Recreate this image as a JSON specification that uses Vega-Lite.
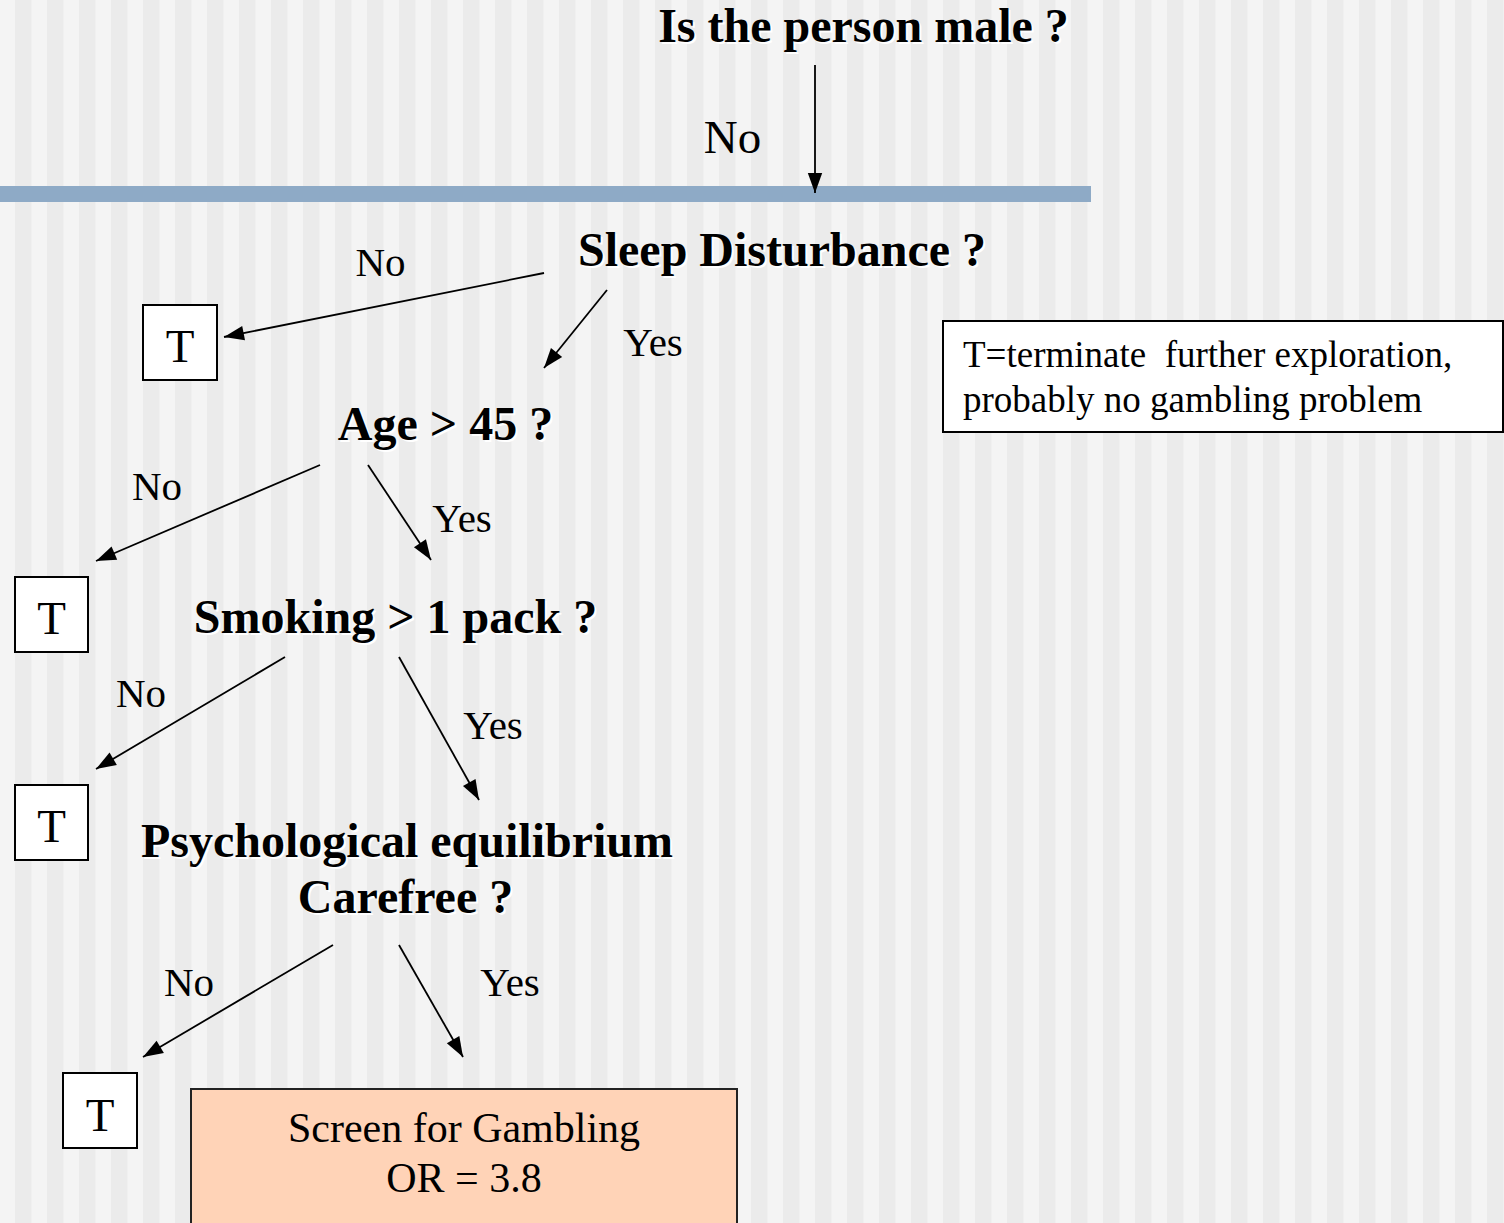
{
  "$schema": "https://vega.github.io/schema/vega-lite/v6.json",
  "width": 1504,
  "height": 1223,
  "padding": 0,
  "autosize": {"type": "none"},
  "background": "#f4f4f4",
  "config": {"view": {"stroke": null}},
  "datasets": {
    "stripes": [
      {"x0": 15, "x1": 31.5}, {"x0": 47, "x1": 63.5}, {"x0": 79, "x1": 95.5}, {"x0": 111, "x1": 127.5},
      {"x0": 143, "x1": 159.5}, {"x0": 175, "x1": 191.5}, {"x0": 207, "x1": 223.5}, {"x0": 239, "x1": 255.5},
      {"x0": 271, "x1": 287.5}, {"x0": 303, "x1": 319.5}, {"x0": 335, "x1": 351.5}, {"x0": 367, "x1": 383.5},
      {"x0": 399, "x1": 415.5}, {"x0": 431, "x1": 447.5}, {"x0": 463, "x1": 479.5}, {"x0": 495, "x1": 511.5},
      {"x0": 527, "x1": 543.5}, {"x0": 559, "x1": 575.5}, {"x0": 591, "x1": 607.5}, {"x0": 623, "x1": 639.5},
      {"x0": 655, "x1": 671.5}, {"x0": 687, "x1": 703.5}, {"x0": 719, "x1": 735.5}, {"x0": 751, "x1": 767.5},
      {"x0": 783, "x1": 799.5}, {"x0": 815, "x1": 831.5}, {"x0": 847, "x1": 863.5}, {"x0": 879, "x1": 895.5},
      {"x0": 911, "x1": 927.5}, {"x0": 943, "x1": 959.5}, {"x0": 975, "x1": 991.5}, {"x0": 1007, "x1": 1023.5},
      {"x0": 1039, "x1": 1055.5}, {"x0": 1071, "x1": 1087.5}, {"x0": 1103, "x1": 1119.5}, {"x0": 1135, "x1": 1151.5},
      {"x0": 1167, "x1": 1183.5}, {"x0": 1199, "x1": 1215.5}, {"x0": 1231, "x1": 1247.5}, {"x0": 1263, "x1": 1279.5},
      {"x0": 1295, "x1": 1311.5}, {"x0": 1327, "x1": 1343.5}, {"x0": 1359, "x1": 1375.5}, {"x0": 1391, "x1": 1407.5},
      {"x0": 1423, "x1": 1439.5}, {"x0": 1455, "x1": 1471.5}, {"x0": 1487, "x1": 1503.5}
    ],
    "boxes": [
      {"kind": "band", "x0": 0, "x1": 1091, "y0": 186, "y1": 202},
      {"kind": "T", "x0": 143, "x1": 217, "y0": 305, "y1": 380},
      {"kind": "T", "x0": 15, "x1": 88, "y0": 577, "y1": 652},
      {"kind": "T", "x0": 15, "x1": 88, "y0": 785, "y1": 860},
      {"kind": "T", "x0": 63, "x1": 137, "y0": 1073, "y1": 1148},
      {"kind": "legend", "x0": 943, "x1": 1503, "y0": 321, "y1": 432},
      {"kind": "outcome", "x0": 191, "x1": 737, "y0": 1089, "y1": 1240}
    ],
    "edges": [
      {"from": "male", "answer": "No", "x1": 815, "y1": 65, "x2": 815, "y2": 193},
      {"from": "sleep", "answer": "No", "x1": 544, "y1": 273, "x2": 224, "y2": 337},
      {"from": "sleep", "answer": "Yes", "x1": 607, "y1": 290, "x2": 544, "y2": 368},
      {"from": "age", "answer": "No", "x1": 320, "y1": 465, "x2": 96, "y2": 561},
      {"from": "age", "answer": "Yes", "x1": 368, "y1": 465, "x2": 431, "y2": 560},
      {"from": "smoking", "answer": "No", "x1": 285, "y1": 657, "x2": 96, "y2": 769},
      {"from": "smoking", "answer": "Yes", "x1": 399, "y1": 657, "x2": 479, "y2": 800},
      {"from": "psych", "answer": "No", "x1": 333, "y1": 945, "x2": 143, "y2": 1057},
      {"from": "psych", "answer": "Yes", "x1": 399, "y1": 945, "x2": 463, "y2": 1057}
    ],
    "texts": [
      {"kind": "question", "text": "Is the person male ?", "x": 863.5, "y": 42},
      {"kind": "question", "text": "Sleep Disturbance ?", "x": 782, "y": 266},
      {"kind": "question", "text": "Age > 45 ?", "x": 445.5, "y": 440},
      {"kind": "question", "text": "Smoking > 1 pack ?", "x": 395.5, "y": 633},
      {"kind": "question", "text": "Psychological equilibrium", "x": 407, "y": 857},
      {"kind": "question", "text": "Carefree ?", "x": 405.5, "y": 913},
      {"kind": "topanswer", "text": "No", "x": 732.5, "y": 153},
      {"kind": "answer", "text": "No", "x": 380.5, "y": 276},
      {"kind": "answer", "text": "Yes", "x": 653, "y": 356},
      {"kind": "answer", "text": "No", "x": 157, "y": 500},
      {"kind": "answer", "text": "Yes", "x": 462, "y": 532},
      {"kind": "answer", "text": "No", "x": 141, "y": 707},
      {"kind": "answer", "text": "Yes", "x": 493, "y": 739},
      {"kind": "answer", "text": "No", "x": 189, "y": 996},
      {"kind": "answer", "text": "Yes", "x": 510, "y": 996},
      {"kind": "T", "text": "T", "x": 180, "y": 362},
      {"kind": "T", "text": "T", "x": 51.5, "y": 634},
      {"kind": "T", "text": "T", "x": 51.5, "y": 842},
      {"kind": "T", "text": "T", "x": 100, "y": 1131},
      {"kind": "legend", "text": "T=terminate \u00a0further exploration,", "x": 963, "y": 367},
      {"kind": "legend", "text": "probably no gambling problem", "x": 963, "y": 412},
      {"kind": "outcome", "text": "Screen for Gambling", "x": 464, "y": 1142},
      {"kind": "outcome", "text": "OR = 3.8", "x": 464, "y": 1192}
    ]
  },
  "layer": [
    {
      "data": {"name": "stripes"},
      "mark": {"type": "rect", "color": "#ebebeb"},
      "encoding": {
        "x": {"field": "x0", "type": "quantitative", "scale": {"domain": [0, 1504], "range": [0, 1504], "zero": false, "nice": false}, "axis": null},
        "x2": {"field": "x1"},
        "y": {"datum": 0, "type": "quantitative", "scale": {"domain": [0, 1223], "range": [0, 1223], "zero": false, "nice": false}, "axis": null},
        "y2": {"datum": 1223}
      }
    },
    {
      "data": {"name": "boxes"},
      "transform": [{"filter": "datum.kind === 'band'"}],
      "mark": {"type": "rect", "color": "#8eaac6"},
      "encoding": {
        "x": {"field": "x0", "type": "quantitative", "scale": {"domain": [0, 1504], "range": [0, 1504], "zero": false, "nice": false}, "axis": null},
        "x2": {"field": "x1"},
        "y": {"field": "y0", "type": "quantitative", "scale": {"domain": [0, 1223], "range": [0, 1223], "zero": false, "nice": false}, "axis": null},
        "y2": {"field": "y1"}
      }
    },
    {
      "data": {"name": "boxes"},
      "transform": [{"filter": "datum.kind === 'T' || datum.kind === 'legend'"}],
      "mark": {"type": "rect", "fill": "#ffffff", "stroke": "#000000", "strokeWidth": 2},
      "encoding": {
        "x": {"field": "x0", "type": "quantitative", "scale": {"domain": [0, 1504], "range": [0, 1504], "zero": false, "nice": false}, "axis": null},
        "x2": {"field": "x1"},
        "y": {"field": "y0", "type": "quantitative", "scale": {"domain": [0, 1223], "range": [0, 1223], "zero": false, "nice": false}, "axis": null},
        "y2": {"field": "y1"}
      }
    },
    {
      "data": {"name": "boxes"},
      "transform": [{"filter": "datum.kind === 'outcome'"}],
      "mark": {"type": "rect", "fill": "#ffd3b7", "stroke": "#222222", "strokeWidth": 2},
      "encoding": {
        "x": {"field": "x0", "type": "quantitative", "scale": {"domain": [0, 1504], "range": [0, 1504], "zero": false, "nice": false}, "axis": null},
        "x2": {"field": "x1"},
        "y": {"field": "y0", "type": "quantitative", "scale": {"domain": [0, 1223], "range": [0, 1223], "zero": false, "nice": false}, "axis": null},
        "y2": {"field": "y1"}
      }
    },
    {
      "data": {"name": "edges"},
      "mark": {"type": "rule", "color": "#000000", "strokeWidth": 1.8},
      "encoding": {
        "x": {"field": "x1", "type": "quantitative", "scale": {"domain": [0, 1504], "range": [0, 1504], "zero": false, "nice": false}, "axis": null},
        "x2": {"field": "x2"},
        "y": {"field": "y1", "type": "quantitative", "scale": {"domain": [0, 1223], "range": [0, 1223], "zero": false, "nice": false}, "axis": null},
        "y2": {"field": "y2"}
      }
    },
    {
      "data": {"name": "edges"},
      "transform": [{"calculate": "atan2(datum.x2 - datum.x1, -(datum.y2 - datum.y1)) * 180 / PI", "as": "heading"}],
      "mark": {"type": "point", "shape": "M0,0L0.72,2L-0.72,2Z", "filled": true, "color": "#000000", "opacity": 1, "size": 400, "strokeWidth": 0},
      "encoding": {
        "x": {"field": "x2", "type": "quantitative", "scale": {"domain": [0, 1504], "range": [0, 1504], "zero": false, "nice": false}, "axis": null},
        "y": {"field": "y2", "type": "quantitative", "scale": {"domain": [0, 1223], "range": [0, 1223], "zero": false, "nice": false}, "axis": null},
        "angle": {"field": "heading", "type": "quantitative", "scale": null}
      }
    },
    {
      "data": {"name": "texts"},
      "transform": [{"filter": "datum.kind === 'question'"}],
      "mark": {"type": "text", "font": "Liberation Serif", "fontWeight": "bold", "fontSize": 48, "align": "center", "baseline": "alphabetic", "color": "#ffffff", "dx": 2, "dy": 2},
      "encoding": {
        "x": {"field": "x", "type": "quantitative", "scale": {"domain": [0, 1504], "range": [0, 1504], "zero": false, "nice": false}, "axis": null},
        "y": {"field": "y", "type": "quantitative", "scale": {"domain": [0, 1223], "range": [0, 1223], "zero": false, "nice": false}, "axis": null},
        "text": {"field": "text"}
      }
    },
    {
      "data": {"name": "texts"},
      "transform": [{"filter": "datum.kind === 'question'"}],
      "mark": {"type": "text", "font": "Liberation Serif", "fontWeight": "bold", "fontSize": 48, "align": "center", "baseline": "alphabetic", "color": "#000000"},
      "encoding": {
        "x": {"field": "x", "type": "quantitative", "scale": {"domain": [0, 1504], "range": [0, 1504], "zero": false, "nice": false}, "axis": null},
        "y": {"field": "y", "type": "quantitative", "scale": {"domain": [0, 1223], "range": [0, 1223], "zero": false, "nice": false}, "axis": null},
        "text": {"field": "text"}
      }
    },
    {
      "data": {"name": "texts"},
      "transform": [{"filter": "datum.kind === 'topanswer'"}],
      "mark": {"type": "text", "font": "Liberation Serif", "fontSize": 47, "align": "center", "baseline": "alphabetic", "color": "#000000"},
      "encoding": {
        "x": {"field": "x", "type": "quantitative", "scale": {"domain": [0, 1504], "range": [0, 1504], "zero": false, "nice": false}, "axis": null},
        "y": {"field": "y", "type": "quantitative", "scale": {"domain": [0, 1223], "range": [0, 1223], "zero": false, "nice": false}, "axis": null},
        "text": {"field": "text"}
      }
    },
    {
      "data": {"name": "texts"},
      "transform": [{"filter": "datum.kind === 'answer'"}],
      "mark": {"type": "text", "font": "Liberation Serif", "fontSize": 41, "align": "center", "baseline": "alphabetic", "color": "#000000"},
      "encoding": {
        "x": {"field": "x", "type": "quantitative", "scale": {"domain": [0, 1504], "range": [0, 1504], "zero": false, "nice": false}, "axis": null},
        "y": {"field": "y", "type": "quantitative", "scale": {"domain": [0, 1223], "range": [0, 1223], "zero": false, "nice": false}, "axis": null},
        "text": {"field": "text"}
      }
    },
    {
      "data": {"name": "texts"},
      "transform": [{"filter": "datum.kind === 'T'"}],
      "mark": {"type": "text", "font": "Liberation Serif", "fontSize": 47, "align": "center", "baseline": "alphabetic", "color": "#000000"},
      "encoding": {
        "x": {"field": "x", "type": "quantitative", "scale": {"domain": [0, 1504], "range": [0, 1504], "zero": false, "nice": false}, "axis": null},
        "y": {"field": "y", "type": "quantitative", "scale": {"domain": [0, 1223], "range": [0, 1223], "zero": false, "nice": false}, "axis": null},
        "text": {"field": "text"}
      }
    },
    {
      "data": {"name": "texts"},
      "transform": [{"filter": "datum.kind === 'legend'"}],
      "mark": {"type": "text", "font": "Liberation Serif", "fontSize": 37, "align": "left", "baseline": "alphabetic", "color": "#000000"},
      "encoding": {
        "x": {"field": "x", "type": "quantitative", "scale": {"domain": [0, 1504], "range": [0, 1504], "zero": false, "nice": false}, "axis": null},
        "y": {"field": "y", "type": "quantitative", "scale": {"domain": [0, 1223], "range": [0, 1223], "zero": false, "nice": false}, "axis": null},
        "text": {"field": "text"}
      }
    },
    {
      "data": {"name": "texts"},
      "transform": [{"filter": "datum.kind === 'outcome'"}],
      "mark": {"type": "text", "font": "Liberation Serif", "fontSize": 42, "align": "center", "baseline": "alphabetic", "color": "#000000"},
      "encoding": {
        "x": {"field": "x", "type": "quantitative", "scale": {"domain": [0, 1504], "range": [0, 1504], "zero": false, "nice": false}, "axis": null},
        "y": {"field": "y", "type": "quantitative", "scale": {"domain": [0, 1223], "range": [0, 1223], "zero": false, "nice": false}, "axis": null},
        "text": {"field": "text"}
      }
    }
  ]
}
